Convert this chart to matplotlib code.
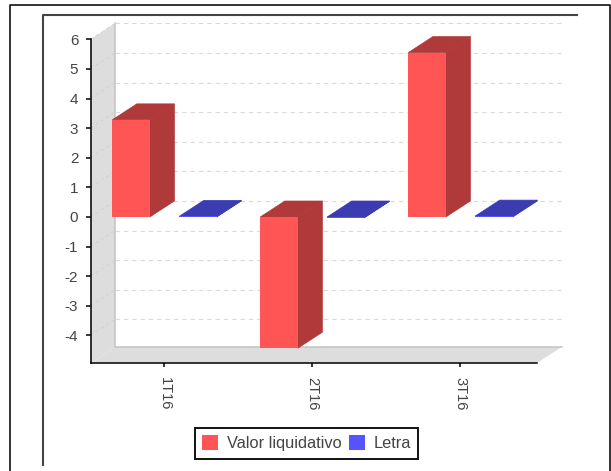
import matplotlib
matplotlib.use('Agg')
import matplotlib.pyplot as plt
from matplotlib.lines import Line2D
from matplotlib.patches import Patch, Polygon

plt.rcParams['font.family'] = ['Liberation Sans', 'DejaVu Sans']
plt.rcParams['axes.unicode_minus'] = False

categories = ['1T16', '2T16', '3T16']
valor_liquidativo = [3.28, -4.43, 5.55]
letra = [0.02, -0.02, 0.03]
y_ticks = [-4, -3, -2, -1, 0, 1, 2, 3, 4, 5, 6]

W, H = 611, 471
# depth of the fake 3d effect, in data units
DX = 0.166
DY = 0.54
BAR_W = 0.254
OFFSET = 0.226
X_MIN, X_MAX = -0.5, 2.517
Y_MIN, Y_MAX = -4.93, 6


def fig_line(fig, xs, ys, color, lw):
    # xs, ys in image pixels
    fig.add_artist(Line2D([x / W for x in xs], [1 - y / H for y in ys], color=color, lw=lw))


def bar_3d(ax, x, val, color, top_color, side_color):
    left = x - BAR_W / 2
    right = x + BAR_W / 2
    high = max(val, 0)
    low = min(val, 0)
    ax.bar(x, val, BAR_W, color=color, zorder=5)
    ax.add_patch(Polygon([(left, high), (left + DX, high + DY), (right + DX, high + DY), (right, high)],
                         facecolor=top_color, edgecolor=top_color, lw=0.5, zorder=4, clip_on=False))
    ax.add_patch(Polygon([(right, high), (right + DX, high + DY), (right + DX, low + DY), (right, low)],
                         facecolor=side_color, edgecolor=side_color, lw=0.5, zorder=4, clip_on=False))


def main():
    fig = plt.figure(figsize=(W / 100, H / 100), dpi=100)
    ax = fig.add_axes([90.5 / W, 1 - 363 / H, (537 - 90.5) / W, (363 - 39.3) / H])
    ax.patch.set_alpha(0)
    ax.set_xlim(X_MIN, X_MAX)
    ax.set_ylim(Y_MIN, Y_MAX)

    # left wall and floor
    wall = '#DDDDDD'
    edge = '#C4C4C4'
    ax.add_patch(Polygon([(X_MIN, Y_MIN), (X_MIN + DX, Y_MIN + DY), (X_MIN + DX, Y_MAX + DY), (X_MIN, Y_MAX)],
                         facecolor=wall, edgecolor='none', zorder=1, clip_on=False))
    ax.add_patch(Polygon([(X_MIN, Y_MIN), (X_MIN + DX, Y_MIN + DY), (X_MAX + DX, Y_MIN + DY), (X_MAX, Y_MIN)],
                         facecolor=wall, edgecolor='none', zorder=1, clip_on=False))
    ax.plot([X_MIN + DX, X_MIN + DX, X_MAX + DX], [Y_MAX + DY, Y_MIN + DY, Y_MIN + DY],
            color=edge, lw=1.1, zorder=2, clip_on=False)

    # grid on the back wall and on the side wall
    for v in y_ticks:
        ax.plot([X_MIN + DX, X_MAX + DX], [v + DY, v + DY], color='#DADADA', lw=0.8,
                ls=(0, (4, 3.5)), zorder=2, clip_on=False)
        ax.plot([X_MIN, X_MIN + DX], [v, v + DY], color='#CFCFCF', lw=0.6,
                ls=(0, (4, 3.5)), zorder=2, clip_on=False)

    for i in range(len(categories)):
        bar_3d(ax, i - OFFSET, valor_liquidativo[i], '#FF5555', '#B03A3A', '#B03A3A')
        bar_3d(ax, i + OFFSET, letra[i], '#5555FF', '#3B3BB2', '#3B3BB2')

    ax.set_xticks(range(len(categories)))
    ax.set_xticklabels(categories, rotation=270)
    ax.set_yticks(y_ticks)
    for s in ['top', 'right']:
        ax.spines[s].set_visible(False)
    for s in ['left', 'bottom']:
        ax.spines[s].set_linewidth(1.1)
        ax.spines[s].set_zorder(6)
    ax.tick_params(axis='x', length=3.2, width=1.1, pad=7, labelsize=10.5, labelcolor='#444444')
    ax.tick_params(axis='y', length=3.8, width=1.1, pad=5, labelsize=11, labelcolor='#444444')

    handles = [Patch(facecolor='#FF5555', label='Valor liquidativo'),
               Patch(facecolor='#5555FF', label='Letra')]
    leg = ax.legend(handles=handles, ncol=2, loc='upper left', bbox_to_anchor=(194.7 / W, 1 - 428 / H),
                    bbox_transform=fig.transFigure, borderaxespad=0, fontsize=11.8, fancybox=False,
                    framealpha=1, edgecolor='#111111', handlelength=1.0, handleheight=1.0,
                    handletextpad=0.5, columnspacing=0.45, borderpad=0.45, labelcolor='#444444')
    leg.get_frame().set_linewidth(1.4)

    # frames around the chart, they come from the page the chart sat in
    fig_line(fig, [9.5, 9.5, 609.5, 609.5], [H, 5, 5, H], '#111111', 1.2)
    fig_line(fig, [43, 43, 577], [465, 14.5, 14.5], '#444444', 1.5)

    fig.savefig('out.png', dpi=100)


if __name__ == '__main__':
    main()
